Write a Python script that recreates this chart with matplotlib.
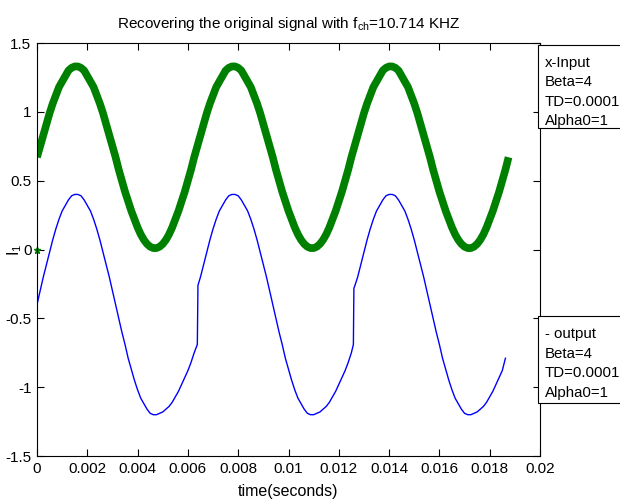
import matplotlib.pyplot as plt
from matplotlib.patches import Rectangle

plt.rcParams["font.family"] = ["Liberation Sans", "DejaVu Sans"]
plt.rcParams["mathtext.fontset"] = "custom"
plt.rcParams["mathtext.rm"] = "Liberation Sans"
plt.rcParams["mathtext.it"] = "Liberation Sans"

# input signal x (green), sampled every 0.125 ms
t_in = [i * 0.000125 for i in range(151)]
x_in = [0.67, 0.75, 0.83, 0.91, 0.99, 1.06, 1.12, 1.18, 1.22, 1.26, 1.30, 1.32, 1.33,
        1.33, 1.32, 1.30, 1.26, 1.22, 1.18, 1.12, 1.06, 0.99, 0.91, 0.83, 0.75,
        0.67, 0.58, 0.50, 0.42, 0.35, 0.28, 0.22, 0.16, 0.11, 0.07, 0.04, 0.02, 0.01,
        0.01, 0.02, 0.04, 0.07, 0.11, 0.16, 0.22, 0.28, 0.35, 0.42, 0.50, 0.58,
        0.67, 0.75, 0.83, 0.91, 0.99, 1.06, 1.12, 1.18, 1.22, 1.26, 1.30, 1.32, 1.33,
        1.33, 1.32, 1.30, 1.26, 1.22, 1.18, 1.12, 1.06, 0.99, 0.91, 0.83, 0.75,
        0.67, 0.58, 0.50, 0.42, 0.35, 0.28, 0.22, 0.16, 0.11, 0.07, 0.04, 0.02, 0.01,
        0.01, 0.02, 0.04, 0.07, 0.11, 0.16, 0.22, 0.28, 0.35, 0.42, 0.50, 0.58,
        0.67, 0.75, 0.83, 0.91, 0.99, 1.06, 1.12, 1.18, 1.22, 1.26, 1.30, 1.32, 1.33,
        1.33, 1.32, 1.30, 1.26, 1.22, 1.18, 1.12, 1.06, 0.99, 0.91, 0.83, 0.75,
        0.67, 0.58, 0.50, 0.42, 0.35, 0.28, 0.22, 0.16, 0.11, 0.07, 0.04, 0.02, 0.01,
        0.01, 0.02, 0.04, 0.07, 0.11, 0.16, 0.22, 0.28, 0.35, 0.42, 0.50, 0.58,
        0.67]

# recovered output (blue), same 0.125 ms grid
t_grid = [i * 0.000125 for i in range(150)]
y_grid = [-0.40, -0.30, -0.20, -0.11, -0.02, 0.07, 0.15, 0.22, 0.28, 0.32, 0.36, 0.39,
          0.40, 0.40, 0.39, 0.36, 0.32, 0.28, 0.22, 0.15, 0.07, -0.02, -0.11, -0.20,
          -0.30, -0.40, -0.50, -0.60, -0.69, -0.79, -0.87, -0.95, -1.02, -1.08, -1.12,
          -1.16, -1.19, -1.20, -1.20, -1.19, -1.18, -1.16, -1.14, -1.11, -1.07, -1.03,
          -0.98, -0.93, -0.88, -0.82, -0.75, -0.69,
          -0.20, -0.11, -0.02, 0.07, 0.15, 0.22, 0.28, 0.32, 0.36, 0.39, 0.40, 0.40,
          0.39, 0.36, 0.32, 0.28, 0.22, 0.15, 0.07, -0.02, -0.11, -0.20, -0.30, -0.40,
          -0.50, -0.60, -0.69, -0.79, -0.87, -0.95, -1.02, -1.08, -1.12, -1.16, -1.19,
          -1.20, -1.20, -1.19, -1.18, -1.16, -1.14, -1.11, -1.07, -1.03, -0.98, -0.93,
          -0.88, -0.82, -0.75, -0.27,
          -0.20, -0.11, -0.02, 0.07, 0.15, 0.22, 0.28, 0.32, 0.36, 0.39, 0.40, 0.40,
          0.39, 0.36, 0.32, 0.28, 0.22, 0.15, 0.07, -0.02, -0.11, -0.20, -0.30, -0.40,
          -0.50, -0.60, -0.69, -0.79, -0.87, -0.95, -1.02, -1.08, -1.12, -1.16, -1.19,
          -1.20, -1.20, -1.19, -1.18, -1.16, -1.14, -1.11, -1.07, -1.03, -0.98, -0.93,
          -0.88, -0.79]
# extra samples at the two jumps
t_jump = [0.0064, 0.01258, 0.0126]
y_jump = [-0.26, -0.69, -0.28]

x_ticks = [0, 0.002, 0.004, 0.006, 0.008, 0.01, 0.012, 0.014, 0.016, 0.018, 0.02]
x_labels = ["0", "0.002", "0.004", "0.006", "0.008", "0.01", "0.012", "0.014",
            "0.016", "0.018", "0.02"]
y_ticks = [-1.5, -1, -0.5, 0, 0.5, 1, 1.5]
y_labels = ["-1.5", "-1", "-0.5", "0", "0.5", "1", "1.5"]

legend_in = ["x-Input", "Beta=4", "TD=0.0001", "Alpha0=1"]
legend_out = ["- output", "Beta=4", "TD=0.0001", "Alpha0=1"]

pts = sorted(zip(t_grid + t_jump, y_grid + y_jump))
t_out = [p[0] for p in pts]
y_out = [p[1] for p in pts]

fig = plt.figure(figsize=(6.2, 5), dpi=100)
ax = fig.add_axes([37 / 620, 1 - 456 / 500, 503 / 620, 413 / 500])

green = "#008000"
ax.plot(t_in, x_in, color=green, lw=5.5, solid_capstyle="butt")
ax.plot([0], [0], "*", color=green, ms=5, clip_on=False)
ax.plot(t_out, y_out, color="blue", lw=1)

ax.set_xlim(0, 0.02)
ax.set_ylim(-1.5, 1.5)
ax.set_xticks(x_ticks)
ax.set_xticklabels(x_labels)
ax.set_yticks(y_ticks)
ax.set_yticklabels(y_labels)
ax.tick_params(direction="in", top=True, right=True, length=5, width=0.8,
               labelsize=11, pad=4)
for s in ax.spines.values():
    s.set_linewidth(0.8)

ax.set_title("Recovering the original signal with f$_{ch}$=10.714 KHZ",
             fontsize=11, pad=11)
ax.set_xlabel("time(seconds)", fontsize=11.5, labelpad=6)
ax.set_ylabel("I$_1$", fontsize=11.5, labelpad=0)
ax.yaxis.set_label_coords(-0.025, 0.5)


def text_box(lines, top, bottom):
    fig.patches.append(Rectangle((538 / 620, 1 - bottom / 500), 0.2,
                                 (bottom - top) / 500, transform=fig.transFigure,
                                 facecolor="white", edgecolor="black", lw=0.8))
    for i, s in enumerate(lines):
        fig.text(545 / 620, 1 - (top + 18 + i * 19.5) / 500, s, fontsize=10.8,
                 va="center", ha="left")


text_box(legend_in, 45, 128)
text_box(legend_out, 316, 403)

fig.savefig("out.png", dpi=100)
